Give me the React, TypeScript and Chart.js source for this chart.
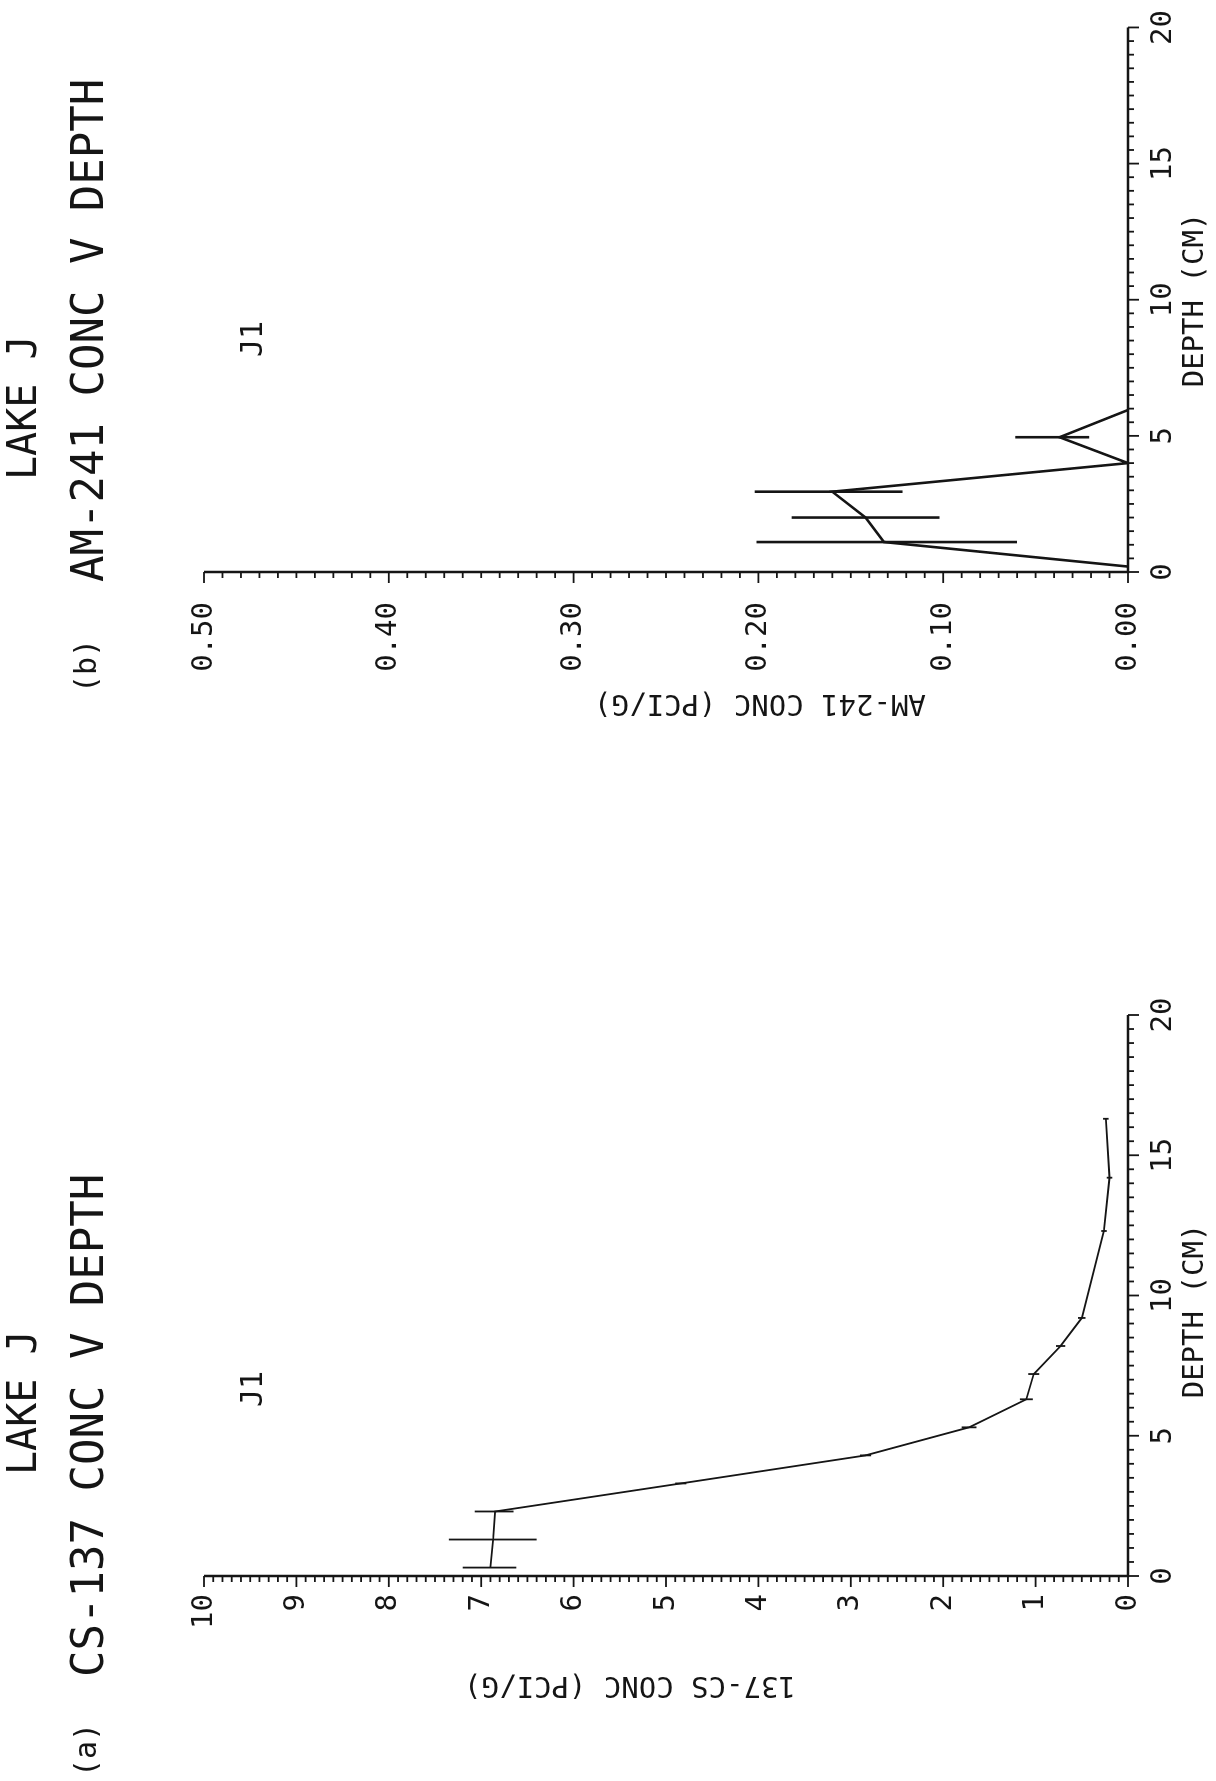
import { Chart, registerables } from "chart.js";
import { useEffect, useRef } from "react";

Chart.register(...registerables);

const FONT = "'DejaVu Sans Mono', 'Liberation Mono', monospace";
const INK = "#151515";

// (a) CS-137
const csDepth = [0.3, 1.3, 2.3, 3.3, 4.3, 5.3, 6.3, 7.2, 8.2, 9.2, 12.3, 14.2, 16.3];
const csConc = [6.9, 6.87, 6.85, 4.84, 2.84, 1.72, 1.1, 1.02, 0.73, 0.5, 0.26, 0.2, 0.24];
const csLo = [6.62, 6.4, 6.65, 4.78, 2.78, 1.64, 1.03, 0.96, 0.68, 0.46, 0.23, 0.17, 0.21];
const csHi = [7.2, 7.35, 7.07, 4.9, 2.9, 1.8, 1.17, 1.08, 0.78, 0.54, 0.29, 0.23, 0.27];

// (b) AM-241
const amDepth = [0.2, 1.1, 2.0, 2.95, 4.0, 4.95, 5.95];
const amConc = [0.0, 0.132, 0.142, 0.16, 0.0, 0.037, 0.0];
const amLo = [0.0, 0.06, 0.102, 0.122, 0.0, 0.021, 0.0];
const amHi = [0.0, 0.201, 0.182, 0.202, 0.0, 0.061, 0.0];

type TextItem = { text: string; u: number; v: number; size: number; align?: CanvasTextAlign; rot?: boolean };

type PanelProps = {
  top: number;
  depth: number[];
  conc: number[];
  lo: number[];
  hi: number[];
  yMax: number;
  yMajor: number;
  yMinor: number;
  yDigits: number;
  plotLeft: number;
  labelPad: number;
  lineWidth: number;
  texts: TextItem[];
};

const W = 900;
const H = 1216;
const PLOT_TOP = 204;
const PLOT_BOTTOM = 1128;
const PLOT_W = 561;

function Panel(p: PanelProps) {
  const ref = useRef<HTMLCanvasElement | null>(null);
  useEffect(() => {
    if (!ref.current) return;
    const decor = {
      id: "decor",
      afterDraw(chart: any) {
        const ctx = chart.ctx as CanvasRenderingContext2D;
        const xs = chart.scales.x;
        const ys = chart.scales.y;
        const a = chart.chartArea;
        ctx.save();
        ctx.strokeStyle = INK;
        // error bars
        ctx.lineWidth = p.lineWidth;
        p.depth.forEach((d, i) => {
          if (p.hi[i] - p.lo[i] <= 0) return;
          const x = xs.getPixelForValue(d);
          ctx.beginPath();
          ctx.moveTo(x, ys.getPixelForValue(p.lo[i]));
          ctx.lineTo(x, ys.getPixelForValue(p.hi[i]));
          ctx.stroke();
        });
        // axes
        ctx.lineWidth = 2.5;
        ctx.beginPath();
        ctx.moveTo(a.left, a.top);
        ctx.lineTo(a.left, a.bottom);
        ctx.lineTo(a.right, a.bottom);
        ctx.stroke();
        ctx.lineWidth = 1.8;
        const nY = Math.round(p.yMax / p.yMinor);
        for (let i = 0; i <= nY; i++) {
          const y = ys.getPixelForValue(i * p.yMinor);
          const major = i % Math.round(p.yMajor / p.yMinor) === 0;
          ctx.beginPath();
          ctx.moveTo(a.left, y);
          ctx.lineTo(a.left - (major ? 11 : 6), y);
          ctx.stroke();
        }
        for (let i = 0; i <= 40; i++) {
          const x = xs.getPixelForValue(i * 0.5);
          const major = i % 10 === 0;
          ctx.beginPath();
          ctx.moveTo(x, a.bottom);
          ctx.lineTo(x, a.bottom + (major ? 11 : 6));
          ctx.stroke();
        }
        // texts
        ctx.fillStyle = INK;
        ctx.textBaseline = "middle";
        p.texts.forEach((t) => {
          ctx.font = `${t.size}px ${FONT}`;
          ctx.textAlign = t.align ?? "left";
          ctx.save();
          ctx.translate(t.u, t.v);
          if (t.rot) ctx.rotate(-Math.PI / 2);
          ctx.fillText(t.text, 0, 0);
          ctx.restore();
        });
        ctx.restore();
      },
    };
    const chart = new Chart(ref.current, {
      type: "line",
      data: {
        datasets: [
          {
            data: p.depth.map((d, i) => ({ x: d, y: p.conc[i] })),
            borderColor: INK,
            borderWidth: p.lineWidth,
            pointRadius: 0,
            tension: 0,
          },
        ],
      },
      options: {
        animation: false,
        responsive: false,
        devicePixelRatio: 1,
        layout: { padding: { left: 0, right: W - p.plotLeft - PLOT_W, top: PLOT_TOP, bottom: 0 } },
        plugins: { legend: { display: false }, tooltip: { enabled: false }, title: { display: false } },
        scales: {
          x: {
            type: "linear",
            min: 0,
            max: 20,
            grid: { display: false },
            border: { display: false },
            ticks: { stepSize: 5, padding: 10, color: INK, font: { family: FONT, size: 29 } },
            afterFit: (s: any) => {
              s.height = H - PLOT_BOTTOM;
            },
          },
          y: {
            type: "linear",
            min: 0,
            max: p.yMax,
            grid: { display: false },
            border: { display: false },
            ticks: {
              stepSize: p.yMajor,
              padding: p.labelPad,
              color: INK,
              font: { family: FONT, size: 29 },
              callback: (v: any) => Number(v).toFixed(p.yDigits),
            },
            afterFit: (s: any) => {
              s.width = p.plotLeft;
            },
          },
        },
      },
      plugins: [decor],
    } as any);
    return () => chart.destroy();
  }, [p]);
  return (
    <div
      style={{
        position: "absolute",
        left: 0,
        top: p.top,
        width: W,
        height: H,
        transformOrigin: "0 0",
        transform: `translate(0px, ${W}px) rotate(-90deg)`,
      }}
    >
      <canvas ref={ref} width={W} height={H} style={{ width: W, height: H }} />
    </div>
  );
}

const panelA: PanelProps = {
  top: 881,
  depth: csDepth,
  conc: csConc,
  lo: csLo,
  hi: csHi,
  yMax: 10,
  yMajor: 1,
  yMinor: 0.1,
  yDigits: 0,
  plotLeft: 205,
  labelPad: 10,
  lineWidth: 1.8,
  texts: [
    { text: "LAKE J", u: 306, v: 26, size: 40 },
    { text: "CS-137 CONC V DEPTH", u: 104, v: 92, size: 44 },
    { text: "(a)", u: 4, v: 88, size: 30 },
    { text: "J1", u: 374, v: 254, size: 30 },
    { text: "137-CS CONC (PCI/G)", u: 96, v: 630, size: 29, align: "center", rot: true },
    { text: "DEPTH (CM)", u: 470, v: 1195, size: 29, align: "center" },
  ],
};

const panelB: PanelProps = {
  top: 0,
  depth: amDepth,
  conc: amConc,
  lo: amLo,
  hi: amHi,
  yMax: 0.5,
  yMajor: 0.1,
  yMinor: 0.01,
  yDigits: 2,
  plotLeft: 328,
  labelPad: 22,
  lineWidth: 2.6,
  texts: [
    { text: "LAKE J", u: 420, v: 26, size: 40 },
    { text: "AM-241 CONC V DEPTH", u: 318, v: 92, size: 44 },
    { text: "(b)", u: 207, v: 88, size: 30 },
    { text: "J1", u: 543, v: 254, size: 30 },
    { text: "AM-241 CONC (PCI/G)", u: 197, v: 760, size: 29, align: "center", rot: true },
    { text: "DEPTH (CM)", u: 600, v: 1195, size: 29, align: "center" },
  ],
};

export default function App() {
  return (
    <div style={{ position: "absolute", left: 0, top: 0, width: 1216, height: 1781, overflow: "hidden", background: "#fff" }}>
      <Panel {...panelB} />
      <Panel {...panelA} />
    </div>
  );
}
